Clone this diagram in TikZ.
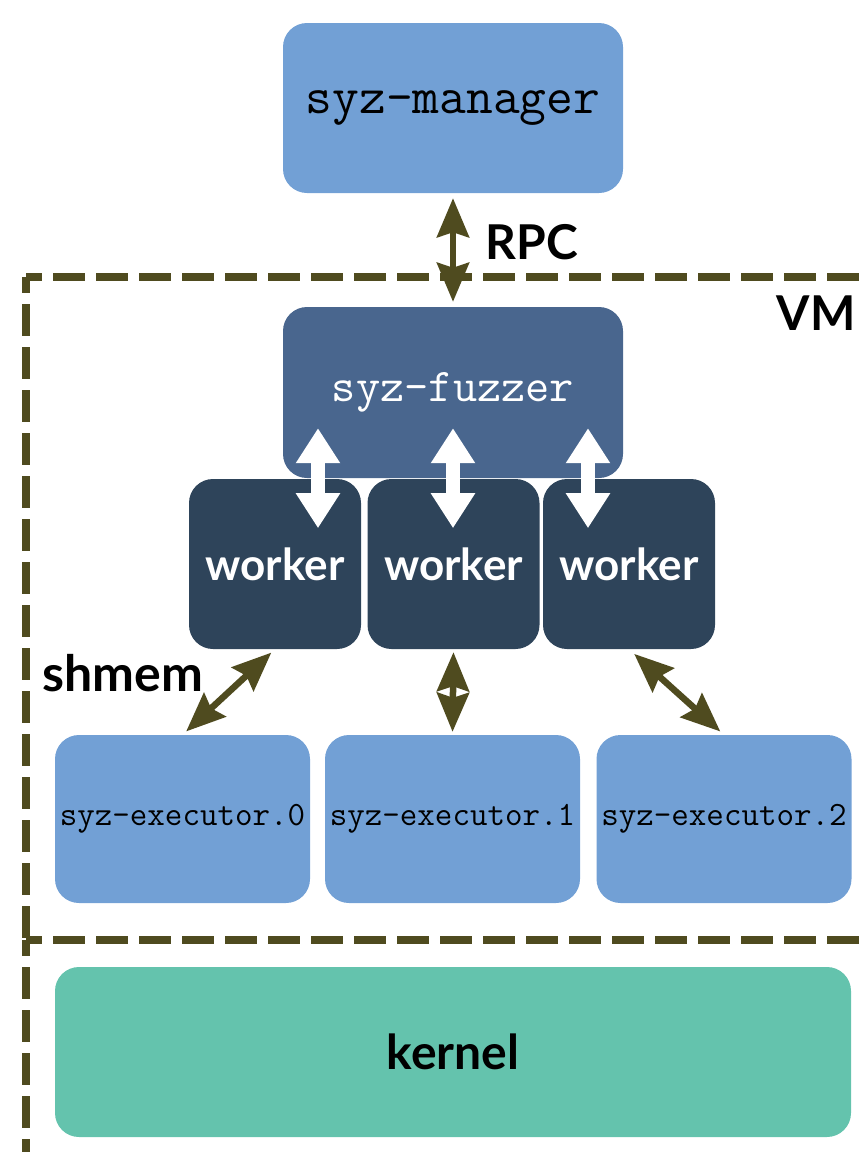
\documentclass[tikz,border=0pt]{standalone}
\usepackage{fontspec}
\setsansfont{Lato}
\usetikzlibrary{arrows.meta}
\usepackage{xcolor}

\definecolor{lightblue}{RGB}{114,160,213}
\definecolor{midblue}{RGB}{73,102,142}
\definecolor{darkblue}{RGB}{46,68,90}
\definecolor{kernelgreen}{RGB}{100,195,173}
\definecolor{olive}{RGB}{79,75,31}

\tikzset{
  box/.style={rounded corners=24pt, inner sep=0pt},
  ttbig/.style={font=\ttfamily\fontsize{52}{52}\selectfont},
  ttmid/.style={font=\ttfamily\fontsize{47}{47}\selectfont},
  ttsmall/.style={font=\ttfamily\fontsize{34}{34}\selectfont},
  sanslabel/.style={font=\sffamily\bfseries\fontsize{48}{48}\selectfont},
  vmline/.style={olive, line width=7.5pt, dash pattern=on 32pt off 11pt, dash phase=16pt},
  oarrow/.style={olive, line width=6.5pt, {Stealth[length=39pt,width=32pt,inset=5pt]}-{Stealth[length=39pt,width=32pt,inset=5pt]}},
  warrow/.style={white, line width=14pt, {Triangle[length=35pt,width=42pt]}-{Triangle[length=35pt,width=42pt]}}
}

\begin{document}
\begin{tikzpicture}[x=1pt,y=-1pt]
  \useasboundingbox (0,0) rectangle (865,1152);
  \clip (0,0) rectangle (865,1152);

  % VM border
  \draw[vmline] (26,277) -- (880,277);
  \draw[vmline] (26,277) -- (26,940);
  \draw[vmline] (26,940) -- (880,940);
  \draw[vmline] (26,940) -- (26,1170);
  \node[sanslabel, anchor=east] (vm) at (859,313) {VM};

  % manager and fuzzer
  \node[box, fill=lightblue, minimum width=340pt, minimum height=170pt, ttbig] (manager) at (453,108) {syz-manager};
  \node[box, fill=midblue, text=white, minimum width=340pt, minimum height=171pt, ttmid] (fuzzer) at (453,392.5) {syz-fuzzer};
  \draw[oarrow, shorten <=5pt, shorten >=5pt] (manager.south) -- (fuzzer.north);
  \node[sanslabel, anchor=west] (rpc) at (482,242) {RPC};

  % workers
  \foreach \i/\x in {1/275, 2/453.5, 3/629}
    \node[box, fill=darkblue, text=white, minimum width=172pt, minimum height=170pt, font=\sffamily\bfseries\fontsize{44}{44}\selectfont] (worker\i) at (\x,564) {worker};
  \foreach \dx in {-135, 0, 135}
    \draw[warrow] ([xshift=\dx pt, yshift=50pt]fuzzer.south) -- ++(0,100);

  % executors
  \foreach \i/\x in {0/182.5, 1/452.5, 2/724}
    \node[box, fill=lightblue, minimum width=255pt, minimum height=168pt, ttsmall] (exec\i) at (\x,819) {syz-executor.\i};
  \draw[oarrow, shorten <=5pt, shorten >=5pt] (worker1.south) -- (exec0.north);
  \draw[oarrow, shorten <=3pt, shorten >=3pt] (worker2.south) -- (exec1.north);
  \draw[oarrow, shorten <=7pt, shorten >=5pt] (worker3.south) -- (exec2.north);
  \node[font=\sffamily\bfseries\fontsize{50}{50}\selectfont] (shmem) at (123,673) {shmem};

  % kernel
  \node[box, fill=kernelgreen, minimum width=796pt, minimum height=170pt, sanslabel] (kernel) at (453,1052) {kernel};
\end{tikzpicture}
\end{document}
